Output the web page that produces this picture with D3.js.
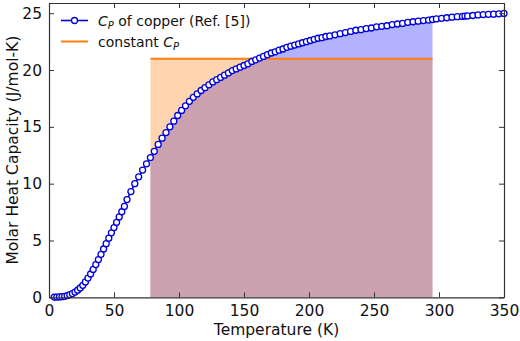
<!DOCTYPE html>
<html>
<head>
<meta charset="utf-8">
<script src="https://cdn.jsdelivr.net/npm/d3@7"></script>
<style>
  body { margin: 0; background: #fff; }
  text { font-family: "DejaVu Sans", sans-serif; fill: #111; }
</style>
</head>
<body>
<div id="chart"></div>
<script>
// Cp of copper
const temps = [4, 6, 8, 10, 12, 14, 16, 18, 20, 22, 24, 26, 28, 30, 32, 34, 36, 38, 40, 42, 44, 46, 48, 50,
    52, 54, 56, 58, 60, 63, 66, 69, 72, 75, 78, 81, 84, 87, 90, 93, 96, 99, 102, 105, 108, 111, 114, 117,
    120, 123, 126, 129, 132, 135, 138, 141, 144, 147, 150, 153, 156, 159, 162, 165, 168, 171, 174, 177,
    180, 183, 186, 189, 192, 195, 198, 201, 204, 207, 210, 213, 216, 220, 224, 228, 232, 236, 240, 244,
    248, 252, 256, 260, 264, 268, 272, 276, 280, 284, 288, 292, 295, 298, 302, 306, 310, 314, 318, 320,
    322, 326, 330, 334, 338, 342, 346, 350];
const cpCopper = [0.01, 0.02, 0.03, 0.055, 0.09, 0.15, 0.23, 0.33, 0.46, 0.62, 0.82, 1.05, 1.35, 1.69, 2.05,
    2.45, 2.88, 3.32, 3.78, 4.25, 4.72, 5.2, 5.67, 6.14, 6.6, 7.07, 7.53, 8.0, 8.6, 9.3, 10.0, 10.6, 11.2,
    11.75, 12.3, 12.85, 13.45, 14.0, 14.5, 15.0, 15.5, 16.0, 16.45, 16.85, 17.25, 17.6, 17.9, 18.2, 18.45,
    18.7, 18.95, 19.15, 19.35, 19.55, 19.75, 19.95, 20.1, 20.25, 20.4, 20.55, 20.75, 20.9, 21.05, 21.2,
    21.35, 21.5, 21.6, 21.75, 21.85, 22.0, 22.1, 22.2, 22.3, 22.4, 22.5, 22.6, 22.7, 22.8, 22.85, 22.95,
    23.0, 23.1, 23.2, 23.3, 23.4, 23.5, 23.55, 23.65, 23.7, 23.8, 23.85, 23.9, 24.0, 24.05, 24.1, 24.2,
    24.25, 24.3, 24.35, 24.4, 24.45, 24.5, 24.55, 24.6, 24.65, 24.7, 24.72, 24.75, 24.76, 24.8, 24.85,
    24.88, 24.9, 24.92, 24.95, 24.98];
const constCp = 21.0;
const fillRange = [78, 295];
const xTicks = [0, 50, 100, 150, 200, 250, 300, 350];
const yTicks = [0, 5, 10, 15, 20, 25];

const data = temps.map((t, i) => ({ T: t, cp: cpCopper[i] }));

const margin = { top: 3, right: 16, bottom: 44, left: 49 };
const width = 520 - margin.left - margin.right;
const height = 297.3 - margin.top;

const svg = d3.select("#chart")
    .append("svg")
    .attr("width", 520)
    .attr("height", 341)
    .append("g")
    .attr("transform", `translate(${margin.left},${margin.top})`);

const x = d3.scaleLinear().domain([0, 350]).range([0, width]);
const y = d3.scaleLinear().domain([0, 25.9]).range([height, 0]);

// filled areas
const inRange = data.filter(d => d.T >= fillRange[0] && d.T <= fillRange[1]);
svg.append("path")
    .datum(inRange)
    .attr("fill", "#0000ff")
    .attr("fill-opacity", 0.3)
    .attr("d", d3.area().x(d => x(d.T)).y0(y(0)).y1(d => y(d.cp)));

svg.append("rect")
    .attr("x", x(fillRange[0]))
    .attr("y", y(constCp))
    .attr("width", x(fillRange[1]) - x(fillRange[0]))
    .attr("height", y(0) - y(constCp))
    .attr("fill", "#ff7f0e")
    .attr("fill-opacity", 0.33);

// constant Cp line
svg.append("line")
    .attr("x1", x(fillRange[0]))
    .attr("x2", x(fillRange[1]))
    .attr("y1", y(constCp))
    .attr("y2", y(constCp))
    .attr("stroke", "#ff7f0e")
    .attr("stroke-width", 2);

// copper curve
svg.append("path")
    .datum(data)
    .attr("fill", "none")
    .attr("stroke", "#0000dd")
    .attr("stroke-width", 1.6)
    .attr("d", d3.line().x(d => x(d.T)).y(d => y(d.cp)));

svg.selectAll("circle.pt")
    .data(data)
    .enter()
    .append("circle")
    .attr("class", "pt")
    .attr("cx", d => x(d.T))
    .attr("cy", d => y(d.cp))
    .attr("r", 3)
    .attr("fill", "#fff")
    .attr("stroke", "#0000dd")
    .attr("stroke-width", 1.3);

// axes, ticks pointing inward on all four sides
const styleAxis = g => {
    g.select(".domain").attr("stroke", "#333").attr("stroke-width", 1.2);
    g.selectAll(".tick line").attr("stroke", "#333").attr("stroke-width", 1);
    g.selectAll(".tick text").style("font-size", "15.5px").attr("fill", "#111");
};

svg.append("g")
    .attr("transform", `translate(0,${height})`)
    .call(d3.axisBottom(x).tickValues(xTicks).tickSizeInner(-5).tickSizeOuter(0).tickPadding(8))
    .call(styleAxis);

svg.append("g")
    .call(d3.axisTop(x).tickValues(xTicks).tickSizeInner(-5).tickSizeOuter(0).tickFormat(""))
    .call(styleAxis);

svg.append("g")
    .call(d3.axisLeft(y).tickValues(yTicks).tickSizeInner(-5).tickSizeOuter(0).tickPadding(7))
    .call(styleAxis);

svg.append("g")
    .attr("transform", `translate(${width},0)`)
    .call(d3.axisRight(y).tickValues(yTicks).tickSizeInner(-5).tickSizeOuter(0).tickFormat(""))
    .call(styleAxis);

// axis labels
svg.append("text")
    .attr("text-anchor", "middle")
    .attr("x", width / 2)
    .attr("y", height + 38)
    .style("font-size", "15.5px")
    .text("Temperature (K)");

svg.append("text")
    .attr("text-anchor", "middle")
    .attr("transform", "rotate(-90)")
    .attr("x", -height / 2)
    .attr("y", -margin.left + 18)
    .style("font-size", "15.5px")
    .text("Molar Heat Capacity (J/mol-K)");

// legend
const legend = svg.append("g").attr("transform", `translate(${61 - margin.left},${20.5 - margin.top})`);

legend.append("line")
    .attr("x1", 0).attr("x2", 27).attr("y1", 0).attr("y2", 0)
    .attr("stroke", "#0000dd").attr("stroke-width", 1.6);
legend.append("circle")
    .attr("cx", 13.5).attr("cy", 0).attr("r", 3)
    .attr("fill", "#fff").attr("stroke", "#0000dd").attr("stroke-width", 1.3);

const t1 = legend.append("text").attr("x", 37).attr("y", 5).style("font-size", "14px");
t1.append("tspan").style("font-style", "italic").text("C");
t1.append("tspan").attr("dy", 3).style("font-size", "10px").style("font-style", "italic").text("P");
t1.append("tspan").attr("dy", -3).text(" of copper (Ref. [5])");

legend.append("line")
    .attr("x1", 0).attr("x2", 27).attr("y1", 21).attr("y2", 21)
    .attr("stroke", "#ff7f0e").attr("stroke-width", 2);

const t2 = legend.append("text").attr("x", 37).attr("y", 26).style("font-size", "14px");
t2.append("tspan").text("constant ");
t2.append("tspan").style("font-style", "italic").text("C");
t2.append("tspan").attr("dy", 3).style("font-size", "10px").style("font-style", "italic").text("P");
</script>
</body>
</html>
